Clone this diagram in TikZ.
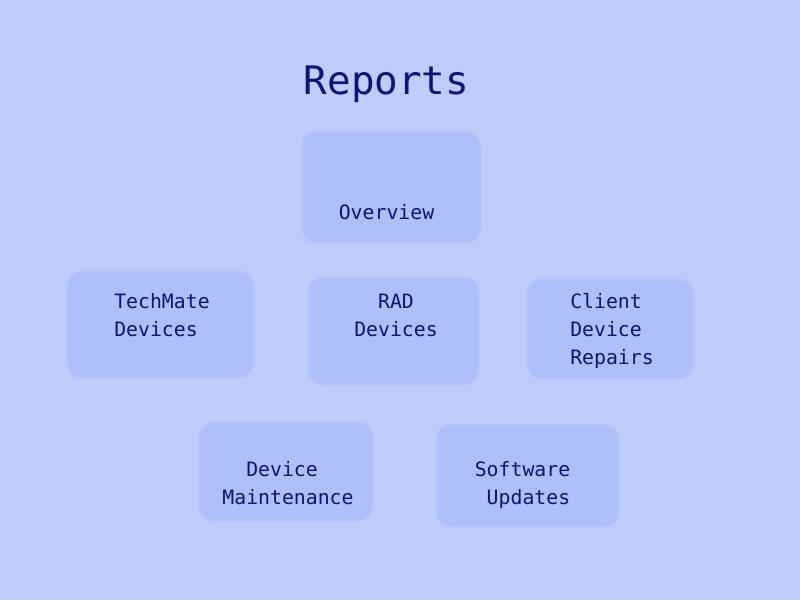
\documentclass[tikz,border=0pt]{standalone}
\usepackage{fontspec}
\usepackage{xcolor}
\usepackage{tikz}
\usetikzlibrary{positioning}
\setmonofont{DejaVu Sans Mono}
\definecolor{pagebg}{RGB}{191, 204, 250}
\definecolor{boxfill}{RGB}{174, 191, 250}
\definecolor{boxline}{RGB}{184, 198, 250}
\definecolor{inknavy}{RGB}{12, 20, 120}

\begin{document}
\begin{tikzpicture}[
        x=1pt, y=-1pt,
        block/.style={rectangle, draw=boxline, fill=boxfill, line width=1.5pt, rounded corners=15pt, inner sep=0pt},
        txt/.style={inner sep=0pt, text=inknavy, font=\ttfamily\fontsize{19.8}{28}\selectfont}
    ]
        % Background
        \fill[pagebg] (0,0) rectangle (800,600);
        \useasboundingbox (0,0) rectangle (800,600);

        % Title
        \node[inner sep=0pt, anchor=base, text=inknavy, font=\ttfamily\fontsize{39.3}{46}\selectfont] (title) at (386.5,94) {Reports};

        % Top
        \node[block, minimum width=179pt, minimum height=112pt] (overviewbox) at (391.5,187) {};
        \node[txt] (overview) at (386.5,212) {Overview};

        % Middle row
        \node[block, minimum width=187pt, minimum height=107pt] (techmatebox) at (160.5,324.5) {};
        \node[txt, align=left] (techmate) at (162,315) {TechMate\\Devices};
        \node[block, minimum width=171pt, minimum height=108pt] (radbox) at (393.5,331) {};
        \node[txt, align=center] (rad) at (396,315) {RAD\\Devices};
        \node[block, minimum width=167pt, minimum height=100pt] (clientbox) at (610.5,329) {};
        \node[txt, align=left] (client) at (612,331) {Client\\Device\\Repairs};

        % Bottom row
        \node[block, minimum width=174pt, minimum height=99pt] (maintbox) at (286,471.5) {};
        \node[txt, align=left] (maint) at (288,483) {\hphantom{MM}Device\\Maintenance};
        \node[block, minimum width=183pt, minimum height=103pt] (softwarebox) at (527.5,475.5) {};
        \node[txt, align=right] (software) at (522.5,485) {Software\\Updates};
    \end{tikzpicture}
\end{document}
